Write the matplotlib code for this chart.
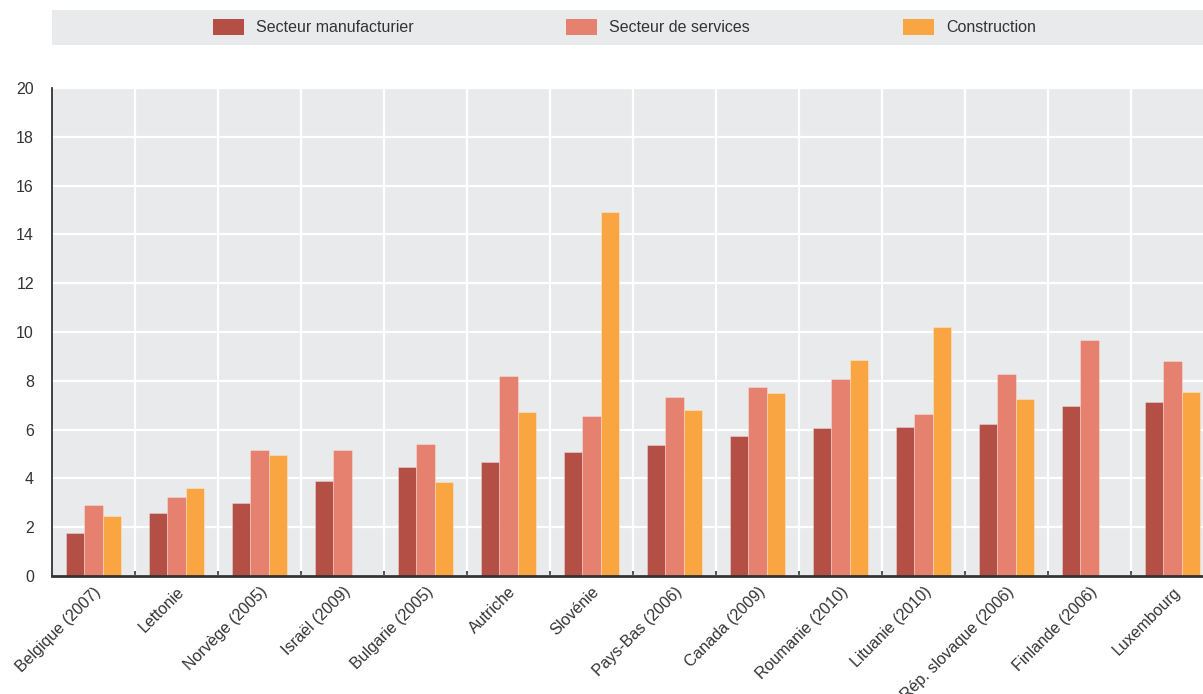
import matplotlib
matplotlib.use("Agg")
import matplotlib.pyplot as plt
from matplotlib.patches import Rectangle
import numpy as np

countries = ["Belgique (2007)", "Lettonie", "Norvège (2005)", "Israël (2009)",
             "Bulgarie (2005)", "Autriche", "Slovénie", "Pays-Bas (2006)",
             "Canada (2009)", "Roumanie (2010)", "Lituanie (2010)",
             "Rép. slovaque (2006)", "Finlande (2006)", "Luxembourg"]
manufacturier = [1.76, 2.58, 2.99, 3.91, 4.45, 4.66, 5.07, 5.36, 5.75, 6.07, 6.11, 6.23, 6.95, 7.12]
services = [2.91, 3.24, 5.15, 5.15, 5.41, 8.20, 6.54, 7.34, 7.73, 8.07, 6.64, 8.28, 9.67, 8.80]
construction = [2.46, 3.61, 4.97, np.nan, 3.87, 6.73, 14.93, 6.80, 7.49, 8.84, 10.20, 7.25, np.nan, 7.55]
series_names = ["Secteur manufacturier", "Secteur de services", "Construction"]
colors = ["#b34f45", "#e6806f", "#f9a541"]
yticks = [0, 2, 4, 6, 8, 10, 12, 14, 16, 18, 20]

FONT = ["Liberation Sans Narrow", "Liberation Sans", "DejaVu Sans"]
plt.rcParams["font.family"] = FONT
TXT = "#333333"

W, H = 1203, 694
fig = plt.figure(figsize=(W / 100, H / 100), dpi=100)
ax = fig.add_axes([52 / W, (H - 576) / H, 1162 / W, 488 / H])
ax.set_facecolor("#e9eaec")

x = np.arange(len(countries))
bw = 0.223
for i, (vals, col) in enumerate(zip([manufacturier, services, construction], colors)):
    ax.bar(x + (i - 1) * bw, vals, width=bw, color=col,
           edgecolor=(1, 1, 1, 0.35), linewidth=0.6, zorder=3)

ax.set_xlim(-0.5, len(countries) - 0.5)
ax.set_ylim(0, 20)
ax.set_yticks(yticks)
ax.set_yticklabels([str(t) for t in yticks])

# boundaries between groups: white grid lines and small ticks
bounds = np.arange(0.5, len(countries) - 0.5, 1.0)
ax.set_xticks(bounds, minor=True)
ax.set_xticks(x)
ax.set_xticklabels(countries, rotation=45, ha="right", va="top",
                   rotation_mode="anchor", fontsize=11.5, color=TXT)
ax.tick_params(axis="x", which="major", length=0, pad=6)
ax.tick_params(axis="x", which="minor", direction="in", length=3.5,
               width=1.2, color="#333333")
ax.tick_params(axis="y", length=0, pad=13, labelsize=11.5, labelcolor=TXT)

ax.grid(True, which="minor", axis="x", color="white", linewidth=1.6, zorder=1)
ax.grid(True, which="major", axis="y", color="white", linewidth=1.6, zorder=1)
ax.grid(False, which="major", axis="x")
ax.set_axisbelow(True)

for s in ["top", "right"]:
    ax.spines[s].set_visible(False)
ax.spines["left"].set_color("#333333")
ax.spines["left"].set_linewidth(1.3)
ax.spines["bottom"].set_color("#333333")
ax.spines["bottom"].set_linewidth(2.0)
ax.spines["bottom"].set_zorder(4)

# legend band across the top
fig.patches.append(Rectangle((52 / W, (H - 45) / H), (W - 52) / W, 35 / H,
                             transform=fig.transFigure, facecolor="#e9eaec",
                             edgecolor="none", zorder=0))
legend_x = [213, 566, 903]
for lx, name, col in zip(legend_x, series_names, colors):
    fig.patches.append(Rectangle((lx / W, (H - 35) / H), 31 / W, 16 / H,
                                 transform=fig.transFigure, facecolor=col,
                                 edgecolor="none", zorder=1))
    fig.text((lx + 43) / W, (H - 27) / H, name, fontsize=11.5, color=TXT,
             va="center", ha="left")

fig.savefig("out.png", dpi=100)
